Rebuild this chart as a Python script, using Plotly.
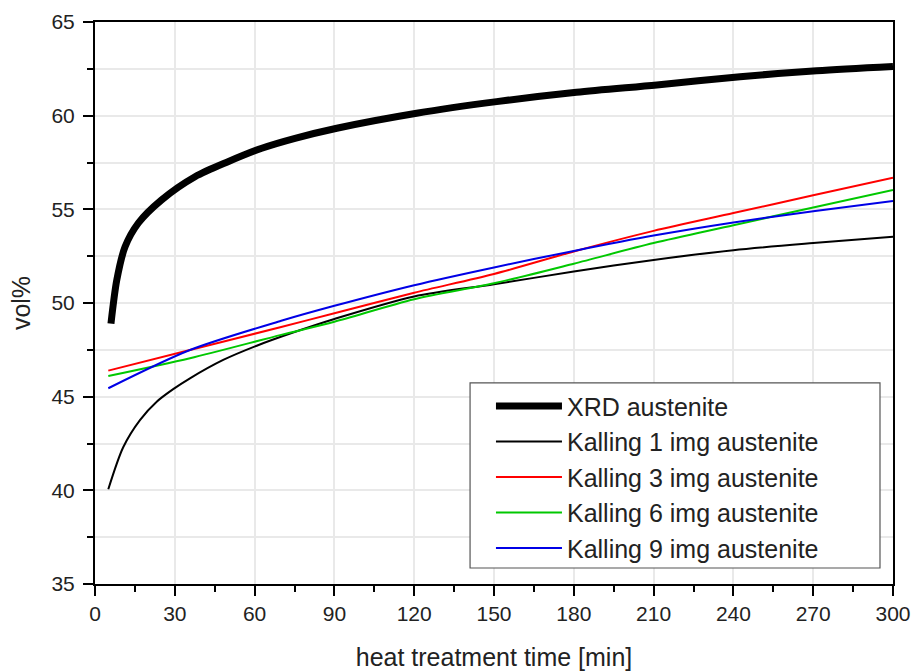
import plotly.graph_objects as go

# ---- data ----
xrd_x = [6, 8.2, 11.3, 16.3, 25, 37.6, 50, 62.7, 75.2, 90.9, 120.9, 151, 181, 211.2, 242.5, 271.3, 300]
xrd_y = [48.9, 51.23, 53.0, 54.27, 55.5, 56.74, 57.54, 58.26, 58.79, 59.33, 60.13, 60.75, 61.25, 61.64, 62.08, 62.4, 62.63]

k1_x = [5, 10.6, 16.9, 23.2, 29.4, 35.7, 48.2, 60.8, 75, 90, 120, 150, 180, 210, 240, 270, 300]
k1_y = [40.06, 42.3, 43.75, 44.73, 45.4, 45.98, 46.96, 47.72, 48.45, 49.15, 50.35, 51.0, 51.68, 52.3, 52.82, 53.2, 53.54]

kc_x = [5, 35.7, 70, 90, 120, 150, 180, 210, 240, 270, 300]
k3_y = [46.39, 47.49, 48.72, 49.45, 50.55, 51.55, 52.75, 53.85, 54.8, 55.75, 56.69]
k6_y = [46.1, 47.05, 48.3, 49.0, 50.2, 51.05, 52.1, 53.2, 54.15, 55.1, 56.03]
k9_y = [45.45, 47.49, 49.05, 49.85, 50.95, 51.9, 52.78, 53.6, 54.3, 54.9, 55.45]

names = ["XRD austenite", "Kalling 1 img austenite", "Kalling 3 img austenite",
         "Kalling 6 img austenite", "Kalling 9 img austenite"]
colors = ["#000000", "#000000", "#ff0000", "#00c800", "#0000e6"]
widths = [7, 2, 2, 2, 2]

x_ticks = [0, 30, 60, 90, 120, 150, 180, 210, 240, 270, 300]
y_ticks = [35, 40, 45, 50, 55, 60, 65]

FONT = "Liberation Sans, Arial, sans-serif"

series = [(xrd_x, xrd_y), (k1_x, k1_y), (kc_x, k3_y), (kc_x, k6_y), (kc_x, k9_y)]

fig = go.Figure()
for (xs, ys), n, c, w in zip(series, names, colors, widths):
    fig.add_trace(go.Scatter(x=xs, y=ys, mode="lines", name=n,
                             line=dict(color=c, width=w, shape="spline", smoothing=0.8)))

axis_common = dict(
    showline=True, linecolor="black", linewidth=2, mirror=True,
    ticks="outside", ticklen=10, tickwidth=2, tickcolor="black",
    zeroline=False, showgrid=True, gridcolor="#e9e9e9", gridwidth=1.5,
    tickfont=dict(family=FONT, size=21, color="#222"),
    automargin=False,
)

fig.update_xaxes(
    range=[0, 300], tickvals=x_ticks,
    minor=dict(ticks="outside", ticklen=6, tickwidth=2, tickcolor="black", dtick=15, tick0=0, showgrid=False),
    title=dict(text="heat treatment time [min]", font=dict(family=FONT, size=25, color="#222"), standoff=28),
    **axis_common,
)
fig.update_yaxes(
    range=[35, 65], tickvals=y_ticks,
    minor=dict(ticks="outside", ticklen=6, tickwidth=2, tickcolor="black", dtick=2.5, tick0=35,
               showgrid=True, gridcolor="#e9e9e9", gridwidth=1.5),
    title=dict(text="vol%", font=dict(family=FONT, size=25, color="#222"), standoff=14),
    ticklabelstandoff=4,
    **axis_common,
)

# legend frame (styling only)
fig.add_shape(type="rect", xref="paper", yref="paper",
              x0=0.47, x1=0.9837, y0=0.0285, y1=0.3577,
              line=dict(color="#555", width=1.2), fillcolor="white", layer="above")

fig.update_layout(
    width=917, height=671,
    margin=dict(l=95, r=24, t=22, b=87),
    paper_bgcolor="white", plot_bgcolor="white",
    font=dict(family=FONT, color="#222"),
    legend=dict(
        x=0.4962, xanchor="left", y=0.357, yanchor="top",
        bgcolor="rgba(0,0,0,0)", borderwidth=0,
        font=dict(family=FONT, size=25, color="#222"),
        itemwidth=66, tracegroupgap=0,
    ),
    showlegend=True,
)

fig.write_html("out.html")
